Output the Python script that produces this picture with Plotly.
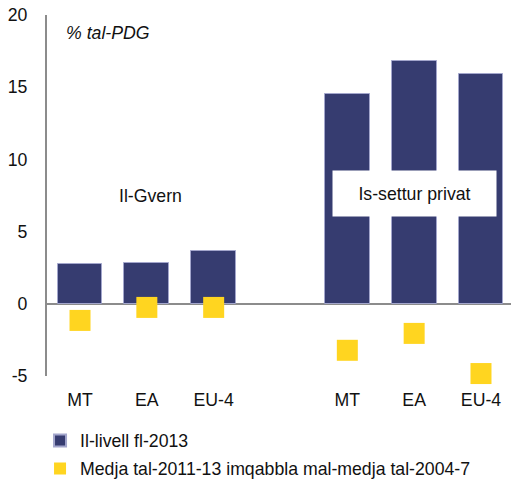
import plotly.graph_objects as go

# ---- data ----
groups = ["Il-Gvern", "Is-settur privat"]
countries = ["MT", "EA", "EU-4"]
level_2013 = [2.75, 2.8, 3.67, 14.55, 16.8, 15.9]
change_avg = [-1.15, -0.25, -0.25, -3.22, -2.05, -4.83]
tick_labels = countries + countries
series_names = ["Il-livell fl-2013", "Medja tal-2011-13 imqabbla mal-medja tal-2004-7"]
y_ticks = [-5, 0, 5, 10, 15, 20]
y_tick_labels = ["-5", "0", "5", "10", "15", "20"]

NAVY = "#363C70"
YELLOW = "#FFD520"
GREY = "#8C8C8C"
FONT = "Liberation Sans, Arial, sans-serif"
FS = 17.7

# positions: each group of 3 followed by an empty slot
xpos = [g * (len(countries) + 1) + i for g in range(len(groups)) for i in range(len(countries))]

fig = go.Figure()
fig.add_trace(go.Bar(
    x=xpos, y=level_2013, name=series_names[0], width=0.67,
    marker=dict(color=NAVY, line=dict(color="#A3A6CC", width=1)),
    legendgroup="a",
))
fig.add_trace(go.Scatter(
    x=xpos, y=change_avg, name=series_names[1], mode="markers", cliponaxis=False,
    marker=dict(symbol="square", size=21, color=YELLOW, line=dict(width=0)),
    legendgroup="b",
))

fig.add_annotation(text="<i>% tal-PDG</i>", xref="paper", yref="y", x=0.036, y=18.73,
                   xanchor="left", yanchor="middle", showarrow=False,
                   font=dict(family=FONT, size=FS, color="#111"))
fig.add_annotation(text=groups[0], xref="x", yref="y", x=1.05, y=7.5,
                   showarrow=False, font=dict(family=FONT, size=FS, color="#111"))
fig.add_annotation(text=groups[1], xref="x", yref="y", x=5.0, y=7.65,
                   showarrow=False, bgcolor="white", width=155, height=37, borderpad=4,
                   font=dict(family=FONT, size=FS, color="#111"))

fig.update_layout(
    width=511, height=483,
    margin=dict(l=47, r=0, t=15, b=107, autoexpand=False),
    paper_bgcolor="white", plot_bgcolor="white",
    font=dict(family=FONT, size=FS, color="#111"),
    showlegend=True,
    legend=dict(x=-0.015, y=-0.129, xanchor="left", yanchor="top",
                font=dict(family=FONT, size=FS, color="#111"),
                tracegroupgap=2, itemsizing="constant", bgcolor="rgba(0,0,0,0)"),
    bargap=0,
)
fig.update_xaxes(range=[-0.494, 6.449], tickvals=xpos, ticktext=tick_labels,
                 showgrid=False, zeroline=False, showline=False, ticks="", automargin=False,
                 ticklabelstandoff=11, tickfont=dict(family=FONT, size=FS, color="#111"))
fig.update_yaxes(range=[-5, 20], tickvals=y_ticks, ticktext=y_tick_labels, showgrid=False,
                 showline=True, linecolor=GREY, linewidth=2, automargin=False,
                 zeroline=True, zerolinecolor=GREY, zerolinewidth=2,
                 ticks="", ticklabelstandoff=14,
                 tickfont=dict(family=FONT, size=FS, color="#111"))

fig.write_html("out.html", config={"displayModeBar": False},
               post_script="document.body.style.margin='0';document.body.style.overflow='hidden';")
